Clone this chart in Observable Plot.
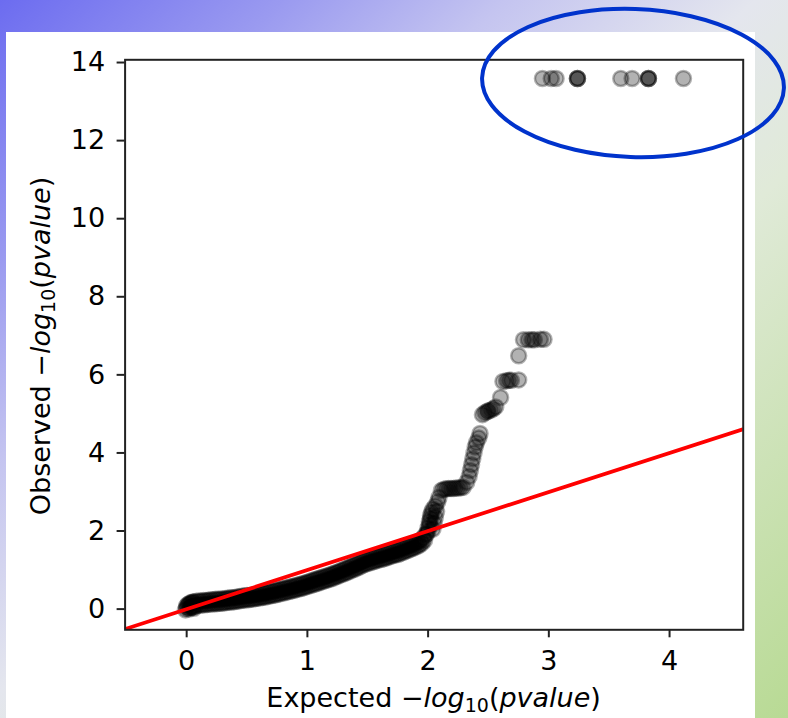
<!DOCTYPE html>
<html><head><meta charset="utf-8">
<script src="https://cdn.jsdelivr.net/npm/d3@7"></script>
<script src="https://cdn.jsdelivr.net/npm/@observablehq/plot@0.6"></script>
<style>
html,body{margin:0;padding:0;}
body{width:788px;height:718px;overflow:hidden;position:relative;
  background:linear-gradient(to bottom right,#6c6cf0 0%,#9a9af0 18%,#c4c4f0 32%,#e4e6ee 48%,#e0ead8 62%,#b8da94 100%);}
#panel{position:absolute;left:6px;top:32px;width:749px;height:686px;background:#fff;}
#panel svg{display:block;}
#overlay{position:absolute;left:0;top:0;pointer-events:none;}
</style></head><body>
<div id="panel"></div>
<svg id="overlay" width="788" height="718"><ellipse cx="633" cy="83" rx="151" ry="74" transform="rotate(2 633 83)" fill="none" stroke="#0033cc" stroke-width="4"/></svg>
<script>
const xTicks = [0, 1, 2, 3, 4];
const yTicks = [0, 2, 4, 6, 8, 10, 12, 14];
const xDomain = [-0.51, 4.61];
const yDomain = [-0.53, 14.07];
const diagonal = [-1, 5];

const blobExpected = [-0.01, 0.00, 0.00, 0.01, 0.02, 0.03, 0.04, 0.05, 0.06];
const blobObserved = [-0.02, 0.03, 0.08, 0.12, 0.00, 0.16, 0.05, 0.18, 0.02];

const bandUpperExpected = [
 0.02,0.04,0.06,0.08,0.10,0.12,0.14,0.16,0.18,0.20,
 0.22,0.24,0.26,0.28,0.30,0.32,0.34,0.36,0.38,0.40,
 0.42,0.44,0.46,0.48,0.50,0.52,0.54,0.56,0.58,0.60,
 0.62,0.64,0.66,0.68,0.70,0.72,0.74,0.76,0.78,0.80,
 0.82,0.84,0.86,0.88,0.90,0.92,0.94,0.96,0.98,1.00,
 1.02,1.04,1.06,1.08,1.10,1.12,1.14,1.16,1.18,1.20,
 1.22,1.24,1.26,1.28,1.30,1.32,1.34,1.36,1.38,1.40,
 1.42,1.44,1.46,1.48,1.50,1.52,1.54,1.56,1.58,1.60,
 1.62,1.64,1.66,1.68,1.70,1.72,1.74,1.76,1.78,1.80,
 1.82,1.84,1.86,1.88,1.90,1.92,1.94,1.96,1.98];
const bandUpperObserved = [
 0.13,0.16,0.18,0.20,0.21,0.21,0.22,0.22,0.23,0.24,
 0.24,0.25,0.25,0.26,0.26,0.27,0.28,0.29,0.29,0.30,
 0.31,0.32,0.33,0.34,0.35,0.35,0.36,0.37,0.38,0.39,
 0.40,0.41,0.42,0.44,0.45,0.46,0.48,0.49,0.51,0.52,
 0.54,0.55,0.57,0.58,0.60,0.62,0.63,0.65,0.67,0.69,
 0.71,0.73,0.75,0.77,0.79,0.81,0.83,0.85,0.87,0.89,
 0.91,0.94,0.96,0.99,1.01,1.04,1.06,1.09,1.12,1.14,
 1.17,1.20,1.23,1.26,1.28,1.30,1.32,1.34,1.36,1.37,
 1.39,1.41,1.43,1.45,1.47,1.49,1.50,1.52,1.55,1.57,
 1.60,1.62,1.65,1.67,1.70,1.73,1.77,1.83,1.91];

const bandLowerExpected = [
 0.03,0.05,0.07,0.09,0.11,0.13,0.15,0.17,0.19,0.21,
 0.23,0.25,0.27,0.29,0.31,0.33,0.35,0.37,0.39,0.41,
 0.43,0.45,0.47,0.49,0.51,0.53,0.55,0.57,0.59,0.61,
 0.63,0.65,0.67,0.69,0.71,0.73,0.75,0.77,0.79,0.81,
 0.83,0.85,0.87,0.89,0.91,0.93,0.95,0.97,0.99,1.01,
 1.03,1.05,1.07,1.09,1.11,1.13,1.15,1.17,1.19,1.21,
 1.23,1.25,1.27,1.29,1.31,1.33,1.35,1.37,1.39,1.41,
 1.43,1.45,1.47,1.49,1.51,1.53,1.55,1.57,1.59,1.61,
 1.63,1.65,1.67,1.69,1.71,1.73,1.75,1.77,1.79,1.81,
 1.83,1.85,1.87,1.89,1.91,1.93,1.95,1.97];
const bandLowerObserved = [
 0.04,0.06,0.08,0.10,0.10,0.11,0.11,0.12,0.13,0.13,
 0.14,0.14,0.15,0.15,0.16,0.17,0.18,0.18,0.19,0.20,
 0.21,0.22,0.23,0.24,0.24,0.25,0.26,0.27,0.28,0.29,
 0.30,0.31,0.32,0.34,0.35,0.36,0.38,0.39,0.41,0.42,
 0.44,0.45,0.47,0.48,0.50,0.52,0.53,0.55,0.57,0.59,
 0.61,0.63,0.65,0.67,0.69,0.71,0.73,0.75,0.77,0.79,
 0.82,0.84,0.87,0.89,0.92,0.94,0.97,1.00,1.02,1.05,
 1.08,1.11,1.14,1.16,1.18,1.20,1.22,1.24,1.26,1.27,
 1.29,1.31,1.33,1.35,1.37,1.39,1.40,1.43,1.45,1.48,
 1.50,1.53,1.55,1.58,1.61,1.64,1.69,1.76];

const tailExpected = [
 1.99,2.00,2.00,2.01,2.01,2.02,2.02,2.03,2.04,2.06,2.08,2.09,
 2.04,2.05,2.06,2.07,
 2.11,2.13,2.15,2.17,2.19,2.21,2.23,2.25,2.27,2.29,
 2.32,2.34,2.35,2.36,2.37,2.38,2.39,2.40,2.42,2.43,
 2.45,2.47,2.49,2.50,2.52,2.54,2.56,
 2.60,
 2.62,2.65,2.67,2.69,2.75,
 2.75,
 2.79,2.83,2.86,2.88,2.93,2.96];
const tailObserved = [
 1.93,2.00,2.08,2.16,2.24,2.32,2.40,2.48,2.56,2.64,2.75,2.86,
 2.05,2.20,2.35,2.50,
 3.04,3.07,3.08,3.09,3.09,3.09,3.10,3.10,3.11,3.12,
 3.25,3.40,3.55,3.70,3.85,4.00,4.15,4.26,4.38,4.50,
 4.98,5.03,5.06,5.08,5.10,5.13,5.18,
 5.42,
 5.83,5.85,5.86,5.86,5.87,
 6.49,
 6.90,6.90,6.90,6.90,6.91,6.91];

const topExpected = [2.947, 3.02, 3.06, 3.237, 3.237, 3.237, 3.596, 3.69, 3.825, 3.825, 3.825, 4.115];
const topObserved = [13.59, 13.59, 13.59, 13.59, 13.59, 13.59, 13.59, 13.59, 13.59, 13.59, 13.59, 13.59];

const toRows = (ex, ob) => ex.map((e, i) => ({expected: e, observed: ob[i]}));
const points = [
  ...toRows(blobExpected, blobObserved),
  ...toRows(bandUpperExpected, bandUpperObserved),
  ...toRows(bandLowerExpected, bandLowerObserved),
  ...toRows(tailExpected, tailObserved),
  ...toRows(topExpected, topObserved)
];
const lineRows = diagonal.map(v => ({expected: v, observed: v}));

const FS = 27;
const plot = Plot.plot({
  width: 749, height: 686,
  marginLeft: 118.6, marginRight: 12.3, marginTop: 27.3, marginBottom: 88.7,
  style: {background: "transparent", fontFamily: "DejaVu Sans", fontSize: FS + "px", color: "#000", overflow: "visible"},
  x: {domain: xDomain},
  y: {domain: yDomain},
  marks: [
    Plot.dot(points, {x: "expected", y: "observed", r: 7.5, fill: "#000", fillOpacity: 0.3, stroke: "#000", strokeOpacity: 0.3, strokeWidth: 2.5}),
    Plot.line(lineRows, {x: "expected", y: "observed", stroke: "#ff0000", strokeWidth: 3.75, clip: true}),
    Plot.frame({stroke: "#222", strokeWidth: 2}),
    Plot.axisX({ticks: xTicks, tickFormat: "d", tickSize: 8, tickPadding: 13.5, label: null, fontSize: FS, stroke: "#222", strokeWidth: 2}),
    Plot.axisY({ticks: yTicks, tickFormat: "d", tickSize: 8, tickPadding: 12, label: null, fontSize: FS, stroke: "#222", strokeWidth: 2})
  ]
});
document.getElementById("panel").appendChild(plot);

const svg = d3.select(plot);
function addLabel(g, first) {
  const t = g.append("text").attr("fill", "#000").attr("font-family", "DejaVu Sans")
    .attr("font-size", FS).attr("text-anchor", "middle");
  t.append("tspan").text(first + "\u2212");
  t.append("tspan").attr("font-style", "italic").text("log");
  t.append("tspan").attr("font-size", 19).attr("dy", 5).text("10");
  t.append("tspan").attr("dy", -5).text("(");
  t.append("tspan").attr("font-style", "italic").text("pvalue");
  t.append("tspan").text(")");
  return t;
}
addLabel(svg.append("g").attr("transform", "translate(427.6,674.7)"), "Expected ");
addLabel(svg.append("g").attr("transform", "translate(44,314) rotate(-90)"), "Observed ");
</script>
</body></html>
